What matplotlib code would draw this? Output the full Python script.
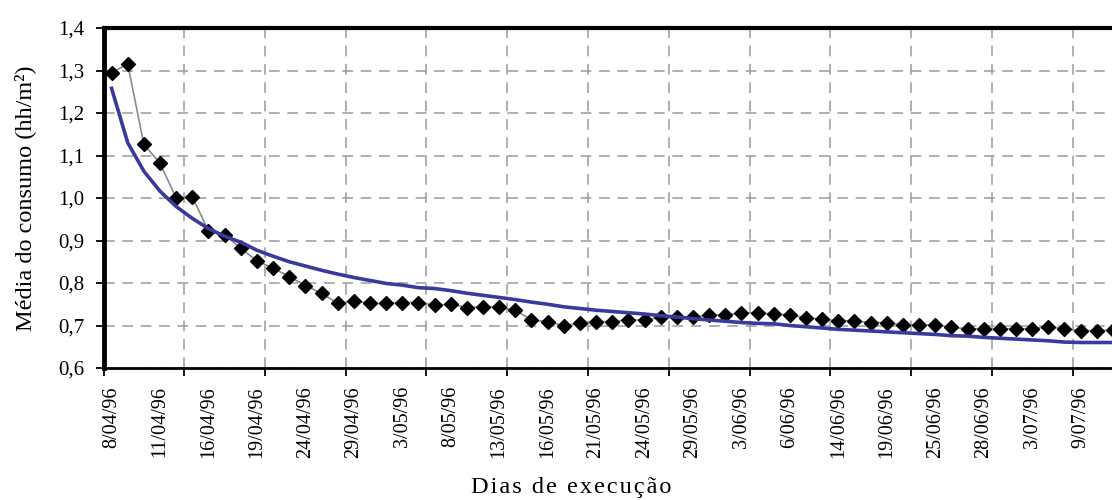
import numpy as np
import matplotlib.pyplot as plt
from matplotlib.ticker import FixedLocator, FuncFormatter

plt.rcParams['font.family'] = ['Liberation Serif', 'DejaVu Serif']

# media diaria do consumo (hh/m2), um valor por dia de execucao
consumo = [1.295, 1.315, 1.126, 1.082, 1.000, 1.003, 0.922, 0.913, 0.882, 0.852,
           0.835, 0.815, 0.794, 0.776, 0.752, 0.758, 0.752, 0.752, 0.754, 0.754,
           0.748, 0.750, 0.742, 0.744, 0.743, 0.736, 0.713, 0.709, 0.700, 0.705,
           0.709, 0.709, 0.713, 0.713, 0.719, 0.720, 0.720, 0.725, 0.725, 0.729,
           0.730, 0.727, 0.725, 0.718, 0.715, 0.711, 0.711, 0.707, 0.707, 0.701,
           0.701, 0.701, 0.696, 0.692, 0.692, 0.692, 0.692, 0.692, 0.697, 0.692,
           0.688, 0.688, 0.689]

# curva ajustada
ajuste = [1.258, 1.130, 1.063, 1.016, 0.980, 0.952, 0.928, 0.910, 0.896, 0.877,
          0.863, 0.850, 0.840, 0.830, 0.821, 0.813, 0.806, 0.799, 0.795, 0.789,
          0.787, 0.782, 0.776, 0.771, 0.766, 0.761, 0.755, 0.750, 0.744, 0.740,
          0.736, 0.733, 0.730, 0.727, 0.723, 0.720, 0.716, 0.713, 0.710, 0.707,
          0.705, 0.704, 0.700, 0.697, 0.694, 0.691, 0.689, 0.687, 0.685, 0.683,
          0.681, 0.679, 0.676, 0.675, 0.672, 0.670, 0.668, 0.666, 0.664, 0.661,
          0.660, 0.660, 0.660]

# datas mostradas no eixo (uma a cada 3 dias de execucao)
datas = ['8/04/96', '11/04/96', '16/04/96', '19/04/96', '24/04/96', '29/04/96',
         '3/05/96', '8/05/96', '13/05/96', '16/05/96', '21/05/96', '24/05/96',
         '29/05/96', '3/06/96', '6/06/96', '14/06/96', '19/06/96', '25/06/96',
         '28/06/96', '3/07/96', '9/07/96']

ncat = 66
dias = np.arange(len(consumo))

fig = plt.figure(figsize=(11.12, 5.0), dpi=100)
W, H = 1112.0, 500.0
left, top, bottom = 103.5, 28.0, 368.0
cat_w = 16.15
ax = fig.add_axes([left / W, 1 - bottom / H, ncat * cat_w / W, (bottom - top) / H])

ax.plot(dias, consumo, color='#8a8a8a', lw=1.2, marker='D', ms=7.2,
        mfc='black', mec='black', zorder=3)
ax.plot(dias, ajuste, color='#3a3a9e', lw=2.6, zorder=4)

ax.set_xlim(-0.5, ncat - 0.5)
ax.set_ylim(0.6, 1.4)

# grade tracejada
ax.xaxis.set_major_locator(FixedLocator(np.arange(-0.5, ncat, 5)))
ax.xaxis.set_minor_locator(FixedLocator(np.arange(0, 3 * len(datas), 3)))
ax.xaxis.set_major_formatter(FuncFormatter(lambda v, p: ''))
ax.xaxis.set_minor_formatter(FuncFormatter(lambda v, p: datas[int(round(v / 3))]))
ax.yaxis.set_major_locator(FixedLocator(np.arange(0.6, 1.41, 0.1)))
ax.yaxis.set_major_formatter(FuncFormatter(lambda v, p: ('%.1f' % v).replace('.', ',')))

ax.grid(True, which='major', color='#9a9a9a', lw=1.1, ls=(0, (7, 5)))
ax.set_axisbelow(True)

ax.tick_params(axis='x', which='major', direction='out', length=6, width=1.3, color='black')
ax.tick_params(axis='x', which='minor', length=0, labelsize=14.5, rotation=90, pad=13)
ax.tick_params(axis='y', which='major', direction='out', length=6, width=1.3,
               labelsize=15, pad=8)

ax.spines['left'].set_linewidth(3.5)
ax.spines['top'].set_linewidth(3.0)
ax.spines['bottom'].set_linewidth(2.0)
ax.spines['right'].set_visible(False)

fig.text(25 / W, 1 - 198 / H, 'Média do consumo (hh/m²)', rotation=90,
         ha='center', va='center', fontsize=17.5)
xlabel = '\u200a'.join('Dias de execução')
fig.text(571 / W, 1 - 487 / H, xlabel, ha='center', va='center', fontsize=17.5)

fig.savefig('out.png', dpi=100)
